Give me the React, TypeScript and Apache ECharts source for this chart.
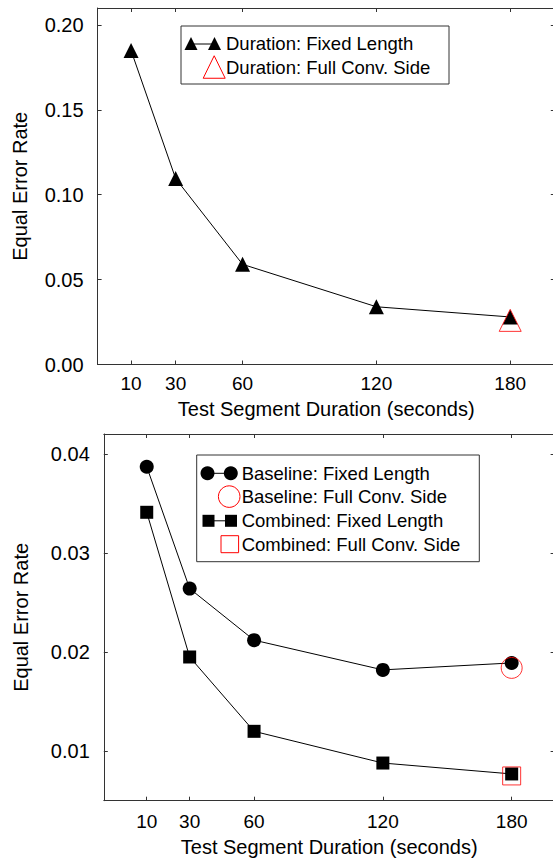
import React, { useEffect, useRef } from "react";
import * as echarts from "echarts";

// ---- Data ----
const DURATIONS = [10, 30, 60, 120, 180];
const X_TICKS = [10, 30, 60, 120, 180];

const DURATION_FIXED = [0.185, 0.1095, 0.059, 0.034, 0.028];
const DURATION_FULL_X = [180];
const DURATION_FULL = [0.026];
const TOP_Y_TICKS = [0, 0.05, 0.1, 0.15, 0.2];

const BASELINE_FIXED = [0.0387, 0.0264, 0.0212, 0.0182, 0.0189];
const BASELINE_FULL_X = [180];
const BASELINE_FULL = [0.0184];
const COMBINED_FIXED = [0.0341, 0.0195, 0.012, 0.0088, 0.0077];
const COMBINED_FULL_X = [180];
const COMBINED_FULL = [0.0075];
const BOTTOM_Y_TICKS = [0.01, 0.02, 0.03, 0.04];

const LEGEND_TOP = ["Duration: Fixed Length", "Duration: Full Conv. Side"];
const LEGEND_BOTTOM = [
  "Baseline: Fixed Length",
  "Baseline: Full Conv. Side",
  "Combined: Fixed Length",
  "Combined: Full Conv. Side",
];
const X_NAME = "Test Segment Duration (seconds)";
const Y_NAME = "Equal Error Rate";

const FONT = "'Liberation Sans', Arial, Helvetica, sans-serif";
const AXIS_COLOR = "#333";
const RED = "#ff0000";

const zip = (xs: number[], ys: number[]) => xs.map((x, i) => [x, ys[i]]);

function xAxis(gridIndex: number, min: number, max: number, position: string, main: boolean, labelMargin: number, nameGap: number) {
  return {
    type: "value",
    gridIndex,
    min,
    max,
    position,
    axisLine: { show: true, onZero: false, lineStyle: { color: AXIS_COLOR, width: 1 } },
    axisTick: { show: true, inside: true, length: 4, customValues: X_TICKS, lineStyle: { color: AXIS_COLOR, width: 1 } },
    axisLabel: {
      show: main,
      customValues: X_TICKS,
      fontSize: 19,
      color: "#000",
      fontFamily: FONT,
      margin: labelMargin,
    },
    splitLine: { show: false },
    name: main ? X_NAME : "",
    nameLocation: "middle",
    nameGap,
    nameTextStyle: { fontSize: 20, color: "#000", fontFamily: FONT },
  };
}

function yAxis(gridIndex: number, min: number, max: number, ticks: number[], position: string, main: boolean, nameGap: number) {
  return {
    type: "value",
    gridIndex,
    min,
    max,
    position,
    axisLine: { show: true, onZero: false, lineStyle: { color: AXIS_COLOR, width: 1 } },
    axisTick: { show: true, inside: true, length: 4, customValues: ticks, lineStyle: { color: AXIS_COLOR, width: 1 } },
    axisLabel: {
      show: main,
      customValues: ticks,
      fontSize: 20,
      color: "#000",
      fontFamily: FONT,
      margin: 14,
      formatter: (v: number) => v.toFixed(2),
    },
    splitLine: { show: false },
    name: main ? Y_NAME : "",
    nameLocation: "middle",
    nameGap,
    nameTextStyle: { fontSize: 20, color: "#000", fontFamily: FONT },
  };
}

function tri(cx: number, cy: number, w: number, h: number) {
  return [
    [cx, cy - h / 2],
    [cx + w / 2, cy + h / 2],
    [cx - w / 2, cy + h / 2],
  ];
}

function legendText(x: number, y: number, text: string) {
  return {
    type: "text",
    x,
    y,
    style: { text, fontSize: 18.5, fontFamily: FONT, fill: "#000", textAlign: "left", textVerticalAlign: "middle", verticalAlign: "middle" },
    z: 100,
  };
}

export default function App() {
  const ref = useRef<HTMLDivElement>(null);

  useEffect(() => {
    if (!ref.current) return;
    const chart = echarts.init(ref.current, null, { renderer: "svg" });

    const graphic: any[] = [
      // top legend
      { type: "rect", shape: { x: 181, y: 26, width: 268, height: 58 }, style: { fill: "#fff", stroke: AXIS_COLOR, lineWidth: 1 }, z: 99 },
      { type: "line", shape: { x1: 191, y1: 44, x2: 214.5, y2: 44 }, style: { stroke: "#000", lineWidth: 1 }, z: 100 },
      { type: "polygon", shape: { points: tri(191, 43.5, 13, 13) }, style: { fill: "#000" }, z: 100 },
      { type: "polygon", shape: { points: tri(214.5, 43.5, 13, 13) }, style: { fill: "#000" }, z: 100 },
      { type: "polygon", shape: { points: tri(214.2, 67, 22, 22.5) }, style: { fill: "none", stroke: RED, lineWidth: 1 }, z: 100 },
      legendText(226, 43.5, LEGEND_TOP[0]),
      legendText(226, 67, LEGEND_TOP[1]),
      // bottom legend
      { type: "rect", shape: { x: 196.7, y: 455, width: 282.6, height: 106.7 }, style: { fill: "#fff", stroke: AXIS_COLOR, lineWidth: 1 }, z: 99 },
      { type: "line", shape: { x1: 207.5, y1: 473.3, x2: 230.8, y2: 473.3 }, style: { stroke: "#000", lineWidth: 1 }, z: 100 },
      { type: "circle", shape: { cx: 207.5, cy: 473.3, r: 7 }, style: { fill: "#000" }, z: 100 },
      { type: "circle", shape: { cx: 230.8, cy: 473.3, r: 7 }, style: { fill: "#000" }, z: 100 },
      { type: "circle", shape: { cx: 229.2, cy: 496.6, r: 10.8 }, style: { fill: "none", stroke: RED, lineWidth: 1 }, z: 100 },
      { type: "line", shape: { x1: 208.5, y1: 520.8, x2: 231, y2: 520.8 }, style: { stroke: "#000", lineWidth: 1 }, z: 100 },
      { type: "rect", shape: { x: 202.5, y: 514.8, width: 12, height: 12 }, style: { fill: "#000" }, z: 100 },
      { type: "rect", shape: { x: 225, y: 514.8, width: 12, height: 12 }, style: { fill: "#000" }, z: 100 },
      { type: "rect", shape: { x: 221, y: 535.7, width: 17.6, height: 17 }, style: { fill: "none", stroke: RED, lineWidth: 1 }, z: 100 },
      legendText(241.7, 473.3, LEGEND_BOTTOM[0]),
      legendText(241.7, 496.7, LEGEND_BOTTOM[1]),
      legendText(241.7, 520.8, LEGEND_BOTTOM[2]),
      legendText(241.7, 544.2, LEGEND_BOTTOM[3]),
    ];

    const option: any = {
      animation: false,
      backgroundColor: "#fff",
      textStyle: { fontFamily: FONT },
      grid: [
        { left: 97.6, top: 8, width: 457.2, height: 356.5, containLabel: false },
        { left: 103.8, top: 434, width: 450.8, height: 366.7, containLabel: false },
      ],
      xAxis: [
        xAxis(0, -5, 200, "bottom", true, 9, 34.5),
        xAxis(0, -5, 200, "top", false, 9, 0),
        xAxis(1, -10, 200, "bottom", true, 11, 36.5),
        xAxis(1, -10, 200, "top", false, 11, 0),
      ],
      yAxis: [
        yAxis(0, 0, 0.21, TOP_Y_TICKS, "left", true, 67.6),
        yAxis(0, 0, 0.21, TOP_Y_TICKS, "right", false, 0),
        yAxis(1, 0.005, 0.042, BOTTOM_Y_TICKS, "left", true, 72.8),
        yAxis(1, 0.005, 0.042, BOTTOM_Y_TICKS, "right", false, 0),
      ],
      series: [
        {
          name: LEGEND_TOP[0],
          type: "line",
          xAxisIndex: 0,
          yAxisIndex: 0,
          data: zip(DURATIONS, DURATION_FIXED),
          symbol: "triangle",
          symbolSize: 15,
          showAllSymbol: true,
          itemStyle: { color: "#000" },
          lineStyle: { color: "#000", width: 1 },
          z: 3,
        },
        {
          name: LEGEND_TOP[1],
          type: "scatter",
          xAxisIndex: 0,
          yAxisIndex: 0,
          data: zip(DURATION_FULL_X, DURATION_FULL),
          symbol: "triangle",
          symbolSize: 22,
          itemStyle: { color: "rgba(0,0,0,0)", borderColor: RED, borderWidth: 1 },
          z: 4,
        },
        {
          name: LEGEND_BOTTOM[0],
          type: "line",
          xAxisIndex: 2,
          yAxisIndex: 2,
          data: zip(DURATIONS, BASELINE_FIXED),
          symbol: "circle",
          symbolSize: 14,
          showAllSymbol: true,
          itemStyle: { color: "#000" },
          lineStyle: { color: "#000", width: 1 },
          z: 3,
        },
        {
          name: LEGEND_BOTTOM[1],
          type: "scatter",
          xAxisIndex: 2,
          yAxisIndex: 2,
          data: zip(BASELINE_FULL_X, BASELINE_FULL),
          symbol: "circle",
          symbolSize: 21,
          itemStyle: { color: "rgba(0,0,0,0)", borderColor: RED, borderWidth: 1 },
          z: 4,
        },
        {
          name: LEGEND_BOTTOM[2],
          type: "line",
          xAxisIndex: 2,
          yAxisIndex: 2,
          data: zip(DURATIONS, COMBINED_FIXED),
          symbol: "rect",
          symbolSize: 13,
          showAllSymbol: true,
          itemStyle: { color: "#000" },
          lineStyle: { color: "#000", width: 1 },
          z: 3,
        },
        {
          name: LEGEND_BOTTOM[3],
          type: "scatter",
          xAxisIndex: 2,
          yAxisIndex: 2,
          data: zip(COMBINED_FULL_X, COMBINED_FULL),
          symbol: "rect",
          symbolSize: 18,
          itemStyle: { color: "rgba(0,0,0,0)", borderColor: RED, borderWidth: 1 },
          z: 4,
        },
      ],
      graphic,
    };

    chart.setOption(option);
    return () => chart.dispose();
  }, []);

  return (
    <div style={{ position: "absolute", left: 0, top: 0, width: 553, height: 859, overflow: "hidden", background: "#fff" }}>
      <div ref={ref} style={{ width: 560, height: 859 }} />
    </div>
  );
}
